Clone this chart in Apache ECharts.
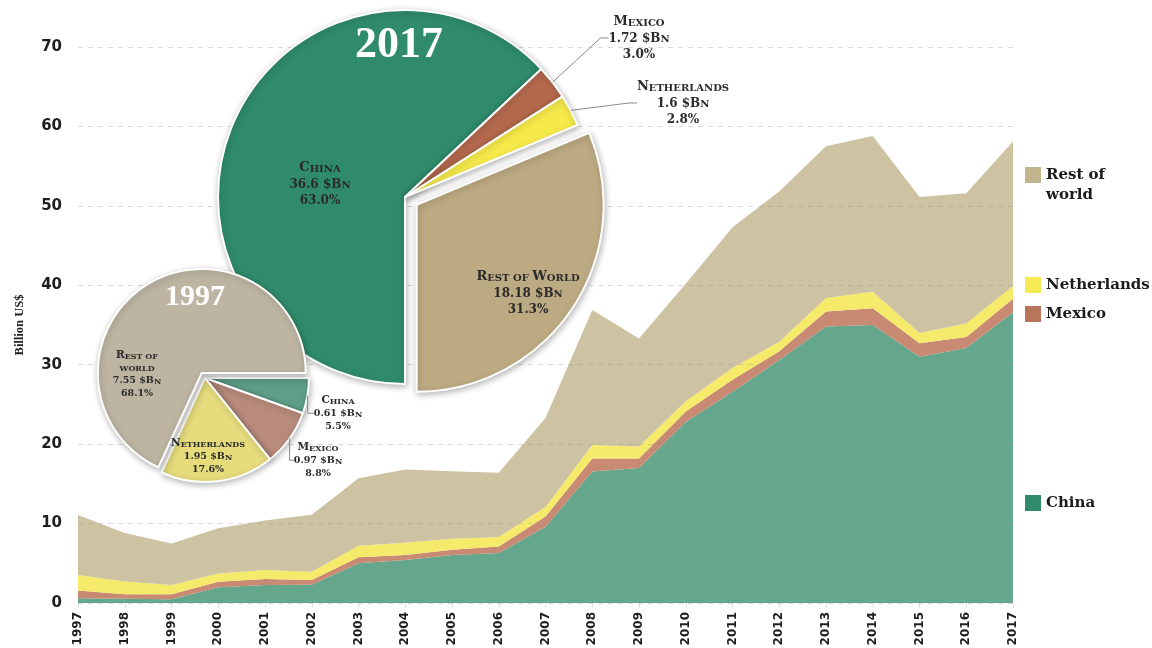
<!DOCTYPE html>
<html>
<head>
<meta charset="utf-8">
<script src="https://cdn.jsdelivr.net/npm/echarts@6/dist/echarts.min.js"></script>
<style>
  html, body { margin: 0; padding: 0; background: #ffffff; }
  #chart { width: 1152px; height: 648px; }
</style>
</head>
<body>
<div id="chart"></div>
<script>
// Trade values, billion US$, 1997-2017
const years = ['1997','1998','1999','2000','2001','2002','2003','2004','2005','2006','2007',
               '2008','2009','2010','2011','2012','2013','2014','2015','2016','2017'];
const china       = [0.61, 0.55, 0.47, 1.97, 2.27, 2.30, 5.00, 5.40, 6.05, 6.30, 9.60,
                     16.55, 17.00, 22.80, 26.60, 30.60, 34.80, 35.00, 31.00, 32.10, 36.6];
const mexico      = [0.97, 0.55, 0.63, 0.70, 0.75, 0.60, 0.75, 0.65, 0.65, 0.80, 1.30,
                     1.65, 1.20, 1.30, 1.50, 1.10, 1.90, 2.10, 1.70, 1.40, 1.72];
const netherlands = [1.95, 1.60, 1.17, 1.05, 1.15, 1.05, 1.45, 1.55, 1.40, 1.20, 1.20,
                     1.70, 1.50, 1.30, 1.50, 1.20, 1.70, 2.10, 1.30, 1.70, 1.6];
const restOfWorld = [7.55, 6.10, 5.23, 5.68, 6.23, 7.15, 8.50, 9.20, 8.50, 8.10, 11.20,
                     17.00, 13.60, 14.80, 17.70, 18.90, 19.10, 19.60, 17.10, 16.40, 18.18];

const seriesNames = ['China', 'Mexico', 'Netherlands', 'Rest of world'];
const pieNames2017 = ['China', 'Mexico', 'Netherlands', 'Rest of World'];
const pieNames1997 = ['China', 'Mexico', 'Netherlands', 'Rest of\nworld'];
const yAxisTitle = 'Billion US$';

// colours
const areaColors   = ['#65a78d', '#c88a72', '#f6ea6a', '#cdc3a3'];
const pie2017Color = ['#2f8b6b', '#b4694c', '#f6ea4a', '#bcaa82'];
const pie1997Color = ['#5f9f88', '#b88b7c', '#e6dc7c', '#bdb5a2'];
const legendColors = ['#2f8b6b', '#b87559', '#f6ea52', '#c2b48c'];

const stackValues = [china, mexico, netherlands, restOfWorld];
const first = 0, last = years.length - 1;

// small-caps label built from rich-text tokens sharing one baseline
function richSet(prefix, capFs, lowFs, numFs, L, color) {
  const base = { fontFamily: 'DejaVu Serif', fontWeight: 'bold', color: color, verticalAlign: 'bottom' };
  const r = {};
  r[prefix + 'c'] = Object.assign({}, base, { fontSize: capFs, lineHeight: L });
  r[prefix + 'l'] = Object.assign({}, base, { fontSize: lowFs, lineHeight: L - 0.7 * (capFs - lowFs) });
  r[prefix + 'n'] = Object.assign({}, base, { fontSize: numFs, lineHeight: L - 0.7 * (capFs - numFs) });
  return r;
}
function smallCaps(text, p) {
  return text.split('\n').map(function (line) {
    return line.split(' ').map(function (word) {
      const f = word[0];
      const rest = word.slice(1).toUpperCase();
      if (f === f.toUpperCase()) {
        return '{' + p + 'c|' + f + '}' + (rest ? '{' + p + 'l|' + rest + '}' : '');
      }
      return '{' + p + 'l|' + word.toUpperCase() + '}';
    }).join('{' + p + 'l| }');
  }).join('\n');
}
function pieLabel(labelNames, values, p) {
  const total = values.reduce(function (a, b) { return a + b; }, 0);
  return function (params) {
    const v = values[params.dataIndex];
    const pct = (v / total * 100).toFixed(1);
    return smallCaps(labelNames[params.dataIndex], p) + '\n' +
      '{' + p + 'n|' + String(v) + ' $B}{' + p + 'l|N}\n' +
      '{' + p + 'n|' + pct + '%}';
  };
}

const pie2017Values = stackValues.map(function (s) { return s[last]; });
const pie1997Values = stackValues.map(function (s) { return s[first]; });

// pie geometry
const pie2017 = { center: [405, 197], radius: 187, startAngle: 270, offset: 14 };
const pie1997 = { center: [205, 378], radius: 104, startAngle: 0, offset: 6 };

// label anchor points (centre of each label block)
const label2017At = [[320, 182], [639, 36], [683, 101], [528, 291]];
const label1997At = [[338, 412], [318, 459], [208, 455], [137, 373]];

const chart = echarts.init(document.getElementById('chart'), null, { renderer: 'canvas' });

const areaSeries = seriesNames.map(function (name, i) {
  return {
    name: name,
    type: 'line',
    stack: 'total',
    data: stackValues[i],
    symbol: 'none',
    lineStyle: { width: 0 },
    areaStyle: { color: areaColors[i], opacity: 1 },
    itemStyle: { color: areaColors[i] },
    z: 2,
    silent: true
  };
});

// coloured pie, with the "Rest of world" wedge pulled out
function piePlate(name, geo, values, colors, z) {
  return {
    name: name,
    type: 'pie',
    z: z,
    center: geo.center,
    radius: geo.radius,
    startAngle: geo.startAngle,
    clockwise: true,
    selectedMode: 'single',
    selectedOffset: geo.offset,
    silent: true,
    emphasis: { disabled: true },
    label: { show: false },
    labelLine: { show: false },
    itemStyle: {
      borderColor: '#ffffff', borderWidth: 2,
      shadowBlur: 6, shadowColor: 'rgba(0,0,0,0.28)', shadowOffsetX: 1, shadowOffsetY: 2
    },
    data: values.map(function (v, i) {
      return { name: seriesNames[i], value: v, selected: i === 3, itemStyle: { color: colors[i] } };
    })
  };
}

// transparent twin of a pie that carries its labels and leader lines
function pieLabels(name, geo, values, labelNames, prefix, rich, anchors, insideIdx, textColors, lineLen, z) {
  return {
    name: name,
    type: 'pie',
    z: z,
    center: geo.center,
    radius: geo.radius,
    startAngle: geo.startAngle,
    clockwise: true,
    selectedMode: false,
    silent: true,
    avoidLabelOverlap: false,
    emphasis: { disabled: true },
    itemStyle: { color: 'rgba(0,0,0,0)', borderWidth: 0 },
    label: {
      show: true,
      align: 'center',
      formatter: pieLabel(labelNames, values, prefix),
      rich: rich
    },
    labelLine: { show: true, length: lineLen[0], length2: lineLen[1], lineStyle: { color: '#8a8a8a', width: 1 } },
    labelLayout: function (params) {
      const p = anchors[params.dataIndex];
      return { x: p[0], y: p[1], align: 'center', verticalAlign: 'middle' };
    },
    data: values.map(function (v, i) {
      const inside = insideIdx.indexOf(i) >= 0;
      return {
        name: seriesNames[i], value: v,
        label: { position: inside ? 'inside' : 'outside', color: textColors[i] },
        labelLine: { show: !inside }
      };
    })
  };
}

function legendAt(i, top, formatter) {
  return {
    left: 1025, top: top, orient: 'vertical', padding: 0,
    itemWidth: 16, itemHeight: 16, itemGap: 0, icon: 'rect', selectedMode: false,
    data: [{ name: seriesNames[i], itemStyle: { color: legendColors[i] } }],
    formatter: formatter,
    textStyle: {
      fontFamily: 'DejaVu Serif', fontWeight: 'bold', fontSize: 15, color: '#1c1c1c', lineHeight: 20
    }
  };
}

const option = {
  animation: false,
  backgroundColor: '#ffffff',
  grid: { left: 78, right: 139, top: 47, bottom: 45, containLabel: false, outerBoundsMode: 'none' },
  xAxis: {
    type: 'category',
    data: years,
    boundaryGap: false,
    axisLine: { show: false },
    axisTick: { show: true, length: 5, alignWithLabel: true, lineStyle: { color: '#e4e4e4' } },
    axisLabel: {
      rotate: 90, margin: 9, interval: 0,
      fontFamily: 'DejaVu Sans', fontWeight: 'bold', fontSize: 12, color: '#1e1e1e'
    },
    splitLine: { show: false }
  },
  yAxis: {
    type: 'value',
    min: 0, max: 70, interval: 10,
    z: 3,
    name: yAxisTitle,
    nameLocation: 'middle',
    nameRotate: 90,
    nameGap: 52,
    nameTextStyle: { fontFamily: 'Liberation Serif', fontWeight: 'bold', fontSize: 12.5, color: '#222' },
    axisLine: { show: false },
    axisTick: { show: false },
    axisLabel: { margin: 16, fontFamily: 'DejaVu Sans', fontWeight: 'bold', fontSize: 15, color: '#1e1e1e' },
    splitLine: { lineStyle: { type: [5, 5], color: 'rgba(150,150,150,0.35)', width: 1 } }
  },
  legend: [
    legendAt(3, 145, function () { return '\nRest of\nworld'; }),
    legendAt(2, 275),
    legendAt(1, 304),
    legendAt(0, 493)
  ],
  series: areaSeries.concat([
    piePlate('2017', pie2017, pie2017Values, pie2017Color, 5),
    piePlate('1997', pie1997, pie1997Values, pie1997Color, 6),
    pieLabels('2017 labels', pie2017, pie2017Values, pieNames2017, 'a',
      richSet('a', 13, 10, 12, 17, '#2a2a2a'), label2017At, [0, 3],
      ['#2b4d40', '#2a2a2a', '#2a2a2a', '#2a2a2a'], [30, 8], 7),
    pieLabels('1997 labels', pie1997, pie1997Values, pieNames1997, 'b',
      richSet('b', 10.5, 8, 9.5, 13.5, '#2a2a2a'), label1997At, [2, 3],
      ['#2a2a2a', '#2a2a2a', '#2a2a2a', '#2a2a2a'], [8, 6], 8)
  ]),
  graphic: [
    {
      type: 'text', z: 100, x: 399, y: 46,
      style: {
        text: years[last], fill: '#ffffff', align: 'center', verticalAlign: 'middle',
        font: 'bold 44px "Liberation Serif"'
      }
    },
    {
      type: 'text', z: 100, x: 195, y: 297,
      style: {
        text: years[first], fill: '#ffffff', align: 'center', verticalAlign: 'middle',
        font: 'bold 30px "Liberation Serif"'
      }
    }
  ]
};

chart.setOption(option);
</script>
</body>
</html>
